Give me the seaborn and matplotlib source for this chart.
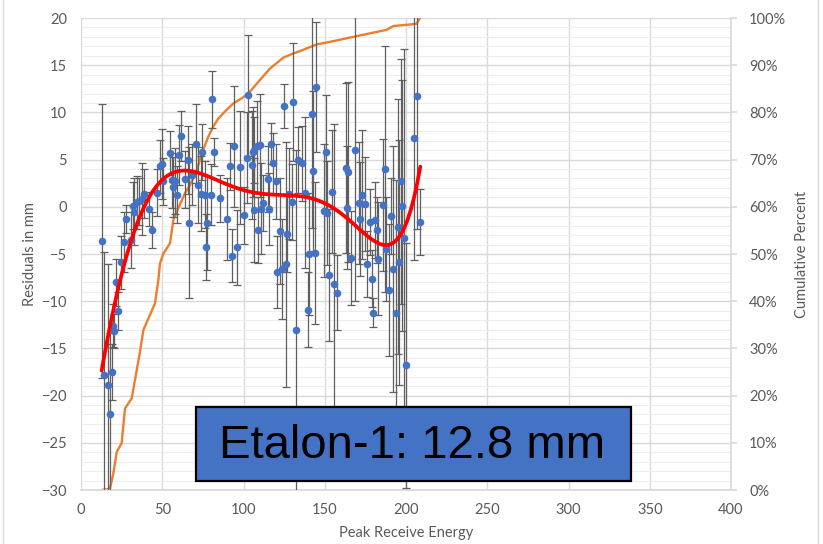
import numpy as np
import pandas as pd
import matplotlib
matplotlib.use("Agg")
import matplotlib.pyplot as plt
import seaborn as sns
from matplotlib.patches import Rectangle
from matplotlib.ticker import MultipleLocator, FuncFormatter

# ---- data ----
energy = [12.7, 14.4, 16.6, 17.6, 18.9, 19.5, 20.5, 21.5, 23.0, 24.4,
          26.7, 27.7, 30.8, 32.2, 32.8, 34.3, 35.9, 37.7, 38.8, 41.8,
          43.9, 47.0, 48.6, 49.6, 50.7, 54.8, 55.8, 56.8, 57.8, 58.9,
          60.3, 61.5, 64.0, 65.6, 66.7, 68.1, 70.8, 72.2, 73.8, 74.6,
          76.3, 76.9, 77.5, 79.8, 80.8, 81.8, 85.5, 89.6, 91.7, 92.7,
          94.4, 95.8, 97.8, 100.5, 102.0, 103.0, 105.0, 105.6, 106.5, 106.6,
          108.0, 108.7, 110.2, 110.8, 111.8, 114.9, 115.9, 116.7, 117.9, 120.0,
          120.8, 122.5, 123.5, 124.9, 126.0, 126.6, 128.2, 129.6, 130.7, 132.1,
          133.7, 135.8, 137.8, 139.9, 140.5, 142.0, 143.0, 144.0, 144.8, 149.8,
          150.8, 151.6, 152.8, 154.7, 155.7, 157.7, 163.0, 163.5, 164.5, 166.0,
          168.8, 170.9, 171.7, 172.7, 174.8, 175.8, 177.8, 178.9, 179.9, 180.9,
          182.0, 182.6, 186.0, 186.9, 187.7, 189.7, 190.8, 191.8, 193.6, 194.9,
          195.7, 196.7, 197.7, 198.8, 199.8, 204.7, 206.6, 208.8]
residual = [-3.6, -17.8, -18.9, -21.9, -17.5, -12.6, -13.2, -8.0, -11.0, -5.9,
            -3.7, -1.3, -3.5, 0.1, -0.5, 0.5, 0.6, 0.8, 1.4, -0.2,
            -2.5, 1.5, 4.3, 4.5, 2.7, 5.7, 2.8, 2.1, 2.7, 1.3,
            5.5, 7.5, 2.9, 5.0, -1.7, 3.4, 6.7, 2.3, 1.4, 5.8,
            1.3, -4.3, -1.7, 1.3, 11.4, 5.8, 0.9, -1.3, 4.3, -5.2,
            6.4, -4.3, 4.2, -0.9, 5.2, 11.8, 4.4, 5.8, 6.0, -0.3,
            6.4, -2.5, 6.5, -0.2, 0.4, 2.9, -0.2, 6.7, 4.6, 2.7,
            -6.9, -2.6, -6.6, 10.7, -6.1, -2.9, 1.4, 0.5, 11.1, -13.0,
            5.0, 4.6, 1.5, -10.9, -5.0, 9.8, 3.8, -4.9, 12.7, -0.4,
            5.8, -0.7, -7.2, 1.6, -8.2, -9.1, 4.1, -0.1, 3.7, -5.4,
            6.0, 0.4, -1.3, 1.3, 0.3, -6.1, -1.6, -7.6, -11.2, -1.4,
            -2.5, -5.5, 0.2, 4.0, -4.5, -8.8, -1.0, -6.6, -11.2, -2.1,
            -5.9, 2.7, 0.1, -3.3, -16.8, 7.3, 11.7, -1.6]
error = [14.5, 13.0, 12.8, 8.5, 3.0, 2.3, 1.8, 2.5, 2.0, 2.8,
         3.2, 1.5, 3.0, 2.5, 3.5, 2.8, 2.5, 3.8, 2.6, 1.8,
         1.9, 2.5, 2.8, 3.7, 2.5, 2.3, 2.9, 3.2, 3.5, 3.0,
         3.2, 2.6, 3.0, 3.6, 8.0, 3.2, 4.2, 4.0, 4.0, 3.0,
         3.5, 3.5, 5.0, 3.2, 3.0, 1.5, 2.5, 4.3, 2.5, 2.8,
         6.4, 4.0, 6.0, 3.0, 4.8, 6.4, 5.7, 4.8, 3.5, 5.5,
         4.8, 3.5, 5.5, 4.8, 3.0, 3.5, 3.8, 2.2, 3.2, 4.0,
         3.8, 5.6, 5.3, 2.3, 13.0, 4.0, 4.8, 4.0, 6.3, 19.0,
         3.5, 4.0, 8.0, 4.0, 6.5, 12.0, 8.5, 7.5, 6.9, 7.0,
         6.0, 5.5, 7.0, 6.5, 17.0, 4.0, 9.0, 6.5, 9.5, 5.0,
         16.0, 6.5, 6.0, 6.8, 5.0, 3.5, 3.5, 3.0, 1.5, 4.0,
         3.5, 6.0, 7.0, 13.0, 5.5, 7.0, 4.0, 13.0, 14.0, 13.5,
         13.0, 13.0, 13.3, 20.0, 13.0, 12.9, 14.0, 3.5]

cum_energy = [12.7, 17.8, 19.9, 22.0, 25.0, 27.1, 31.2, 36.3, 38.4, 45.5,
              47.6, 48.6, 50.7, 54.8, 56.8, 59.9, 64.0, 67.0, 70.8, 74.3,
              78.4, 81.4, 84.5, 88.6, 93.7, 98.9, 103.0, 110.2, 116.3, 124.5,
              130.7, 134.8, 145.0, 155.3, 163.5, 175.8, 188.1, 192.2, 204.5, 206.6,
              208.6]
cum_percent = [0.0, 0.3, 3.5, 8.1, 9.9, 17.3, 19.4, 29.3, 33.9, 39.5,
               44.5, 48.0, 50.1, 52.3, 57.2, 59.7, 62.9, 64.6, 67.2, 71.3,
               74.9, 77.0, 78.7, 80.2, 81.9, 83.0, 84.0, 86.9, 89.3, 91.6,
               92.5, 93.0, 94.4, 95.1, 95.7, 96.6, 97.5, 98.3, 98.7, 98.8,
               100.0]

x_ticks = [0, 50, 100, 150, 200, 250, 300, 350, 400]
y_ticks = [-30, -25, -20, -15, -10, -5, 0, 5, 10, 15, 20]
pct_ticks = [0, 10, 20, 30, 40, 50, 60, 70, 80, 90, 100]
box_label = "Etalon-1: 12.8 mm"

# ---- style ----
sns.set_theme(style="white")
plt.rcParams['font.family'] = ['Lato', 'DejaVu Sans']
TXT = "#595959"
GRID = "#D9D9D9"
MINOR = "#EDEDED"

fig = plt.figure(figsize=(8.23, 5.44), dpi=100)
rect = [81 / 823, 54 / 544, 650 / 823, 472 / 544]
axp = fig.add_axes(rect)          # percent axis (background, grid, cumulative)
ax = axp.twinx()                  # residual axis on top
ax.set_zorder(axp.get_zorder() + 1)
ax.patch.set_visible(False)
axp.patch.set_facecolor("white")

df = pd.DataFrame({"energy": energy, "residual": residual, "error": error})
cdf = pd.DataFrame({"energy": cum_energy, "percent": cum_percent})

# cumulative line
sns.lineplot(data=cdf, x="energy", y="percent", ax=axp, color="#ED7D31",
             lw=1.7, estimator=None, sort=False)

# error bars, points and trend
ax.errorbar(df["energy"], df["residual"], yerr=df["error"], fmt="none",
            ecolor="#5f5f5f", elinewidth=0.9, capsize=2.6, capthick=0.9, zorder=2)
sns.scatterplot(data=df, x="energy", y="residual", ax=ax, color="#4472C4",
                s=30, linewidth=0, zorder=3)
sns.regplot(data=df, x="energy", y="residual", order=6, ci=None, scatter=False,
            ax=ax, truncate=True, line_kws=dict(color="#FF0000", lw=2.7, zorder=4))

# limits / ticks
axp.set_xlim(0, 400)
ax.set_xlim(0, 400)
ax.set_ylim(-30, 20)
axp.set_ylim(0, 100)
axp.set_xticks(x_ticks)
ax.set_yticks(y_ticks)
axp.set_yticks(pct_ticks)
axp.yaxis.set_minor_locator(MultipleLocator(2))
axp.yaxis.set_major_formatter(FuncFormatter(lambda v, p: f"{v:.0f}%"))

ax.yaxis.tick_left()
ax.yaxis.set_label_position("left")
axp.yaxis.tick_right()
axp.yaxis.set_label_position("right")

axp.grid(True, which="major", axis="both", color=GRID, lw=1.0)
axp.grid(True, which="minor", axis="y", color=MINOR, lw=0.8)
axp.set_axisbelow(True)

for s in ["top", "left"]:
    axp.spines[s].set_visible(False)
axp.spines["bottom"].set_color(GRID)
axp.spines["right"].set_color(GRID)
for s in ax.spines.values():
    s.set_visible(False)

axp.tick_params(axis="x", length=0, pad=9, labelsize=10.5, labelcolor=TXT)
axp.tick_params(axis="y", which="major", length=4, color=GRID, direction="out",
                pad=9, labelsize=10.5, labelcolor=TXT, right=True, left=False)
axp.tick_params(axis="y", which="minor", length=0)
ax.tick_params(axis="y", length=0, pad=10, labelsize=10.5, labelcolor=TXT)

axp.set_xlabel("Peak Receive Energy", fontsize=10.5, color=TXT, labelpad=7)
axp.set_ylabel("Cumulative Percent", fontsize=10.5, color=TXT, labelpad=6)
ax.set_ylabel("Residuals in mm", fontsize=10.5, color=TXT, labelpad=3)
ax.set_xlabel("")

# annotation box
ax.add_patch(Rectangle((0.177, 0.019), 0.669, 0.157, transform=ax.transAxes,
                       facecolor="#4472C4", edgecolor="black", lw=1.6, zorder=10,
                       clip_on=False))
ax.text(0.51, 0.093, box_label, transform=ax.transAxes, ha="center", va="center",
        fontsize=34, color="black", family=["Liberation Sans", "DejaVu Sans"], zorder=11)

# chart-area border
fig.add_artist(Rectangle((3 / 823, -0.01), 815 / 823, 1.02, transform=fig.transFigure,
                         fill=False, edgecolor=GRID, lw=1.0))

fig.savefig("out.png", dpi=100)
